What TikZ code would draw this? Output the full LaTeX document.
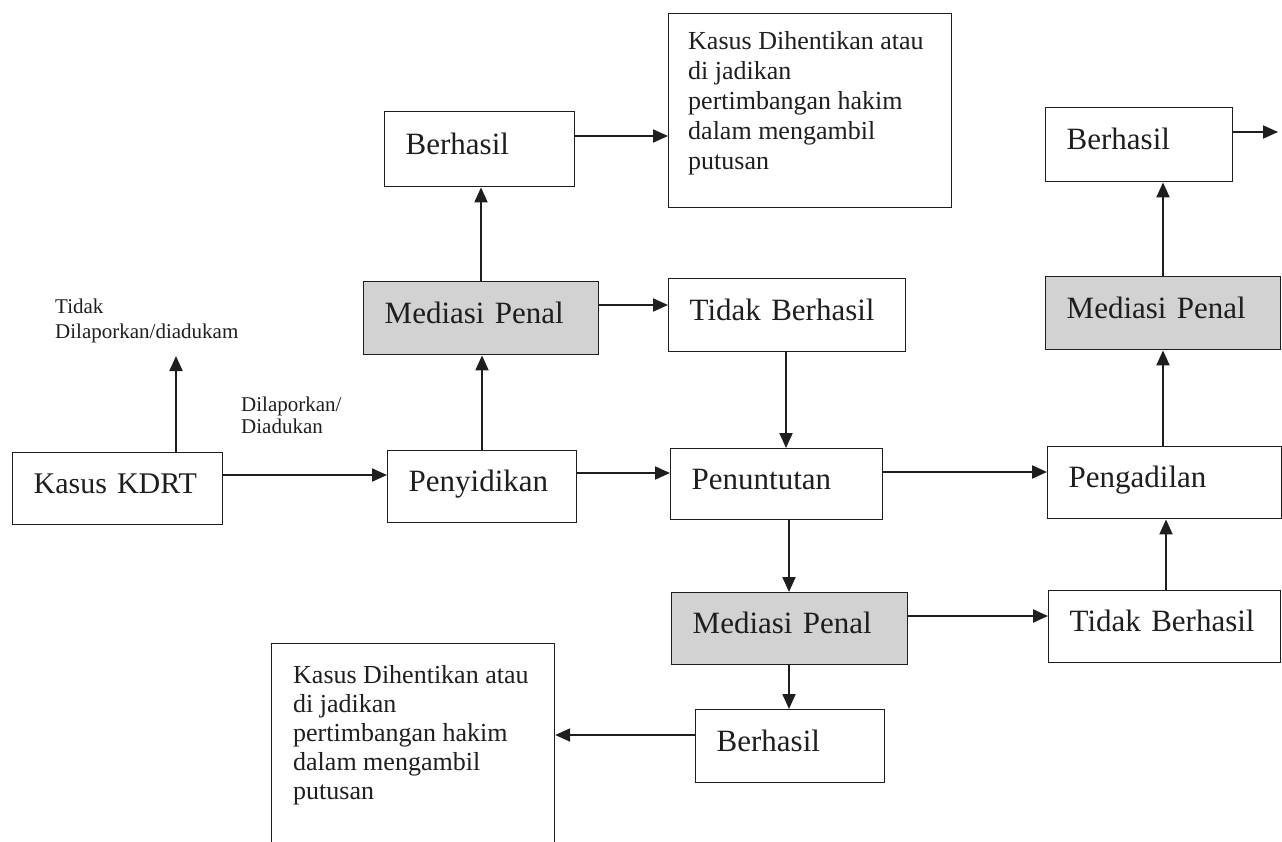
\documentclass[tikz,border=0pt]{standalone}
\usepackage{fontspec}
\setmainfont{Liberation Serif}
\usetikzlibrary{arrows.meta,calc}
\definecolor{ink}{HTML}{1E1E1E}
\definecolor{shade}{HTML}{D2D2D2}
\begin{document}
\begin{tikzpicture}[x=1pt,y=-1pt,
  box/.style={draw=ink, line width=1.4pt, inner xsep=21pt, inner ysep=0pt, anchor=north west, align=left,
    font=\fontsize{31}{36}\selectfont, text=ink, text height=18pt, text depth=8pt},
  gbox/.style={box, fill=shade},
  bigbox/.style={draw=ink, line width=1.2pt, anchor=north west, inner sep=0pt},
  para/.style={anchor=north west, align=left, inner sep=0pt, font=\fontsize{26}{30}\selectfont, text=ink},
  parab/.style={para, font=\fontsize{26}{29}\selectfont},
  smalla/.style={anchor=north west, align=left, inner sep=0pt, font=\fontsize{21}{25}\selectfont, text=ink},
  smallb/.style={smalla, font=\fontsize{21}{22}\selectfont},
  conn/.style={draw=ink, line width=2pt, -{Triangle[length=15pt,width=13pt]}}
]
\useasboundingbox (0,0) rectangle (1282,841);
\clip (0,0) rectangle (1282,841);

% boxes
\node[box, text width=168pt, minimum height=72pt, font=\fontsize{30}{36}\selectfont] (kdrt) at (12,452) {Kasus~KDRT};
\node[box, text width=147pt, minimum height=72pt] (peny) at (387,450) {Penyidikan};
\node[gbox, text width=193pt, minimum height=73pt] (medA) at (363,281) {Mediasi~Penal};
\node[box, text width=148pt, minimum height=75pt] (berA) at (384,111) {Berhasil};
\node[bigbox, minimum width=283pt, minimum height=194pt] (kasA) at (668,13) {};
\node[para] (kasAt) at (688,31) {Kasus Dihentikan atau\\di jadikan\\pertimbangan hakim\\dalam mengambil\\putusan};
\node[box, text width=195pt, minimum height=73pt] (tdkA) at (668,278) {Tidak~Berhasil};
\node[box, text width=170pt, minimum height=71pt] (pent) at (670,448) {Penuntutan};
\node[box, text width=192pt, minimum height=72pt] (peng) at (1047,446) {Pengadilan};
\node[gbox, text width=193pt, minimum height=73pt] (medB) at (1045,276) {Mediasi~Penal};
\node[box, text width=145pt, minimum height=74pt] (berB) at (1045,107) {Berhasil};
\node[gbox, text width=194pt, minimum height=72pt] (medC) at (671,592) {Mediasi~Penal};
\node[box, text width=190pt, minimum height=72pt] (tdkC) at (1048,590) {Tidak~Berhasil};
\node[box, text width=147pt, minimum height=73pt] (berC) at (695,709) {Berhasil};
\node[bigbox, minimum width=283pt, minimum height=217pt] (kasC) at (271,643) {};
\node[parab] (kasCt) at (293,665) {Kasus Dihentikan atau\\di jadikan\\pertimbangan hakim\\dalam mengambil\\putusan};

% labels
\node[smalla] (lblT) at (55,299) {Tidak\\Dilaporkan/diadukam};
\node[smallb] (lblD) at (241,397) {Dilaporkan/\\Diadukan};

% free ends
\coordinate (tdk) at (176,356);
\coordinate (out) at (1278,132);

% connectors
\draw[conn] (kdrt.north -| tdk) -- (tdk);
\draw[conn] (kdrt.east |- 0,475) -- (peny.west |- 0,475);
\draw[conn] (peny.north -| 482,0) -- (medA.south -| 482,0);
\draw[conn] (medA.north -| 481,0) -- (berA.south -| 481,0);
\draw[conn] (berA.east |- 0,136) -- (kasA.west |- 0,136);
\draw[conn] (medA.east |- 0,305) -- (tdkA.west |- 0,305);
\draw[conn] (tdkA.south -| 786,0) -- (pent.north -| 786,0);
\draw[conn] (peny.east |- 0,473) -- (pent.west |- 0,473);
\draw[conn] (pent.east |- 0,472) -- (peng.west |- 0,472);
\draw[conn] (pent.south -| 789,0) -- (medC.north -| 789,0);
\draw[conn] (medC.south -| 789,0) -- (berC.north -| 789,0);
\draw[conn] (berC.west |- 0,735) -- (kasC.east |- 0,735);
\draw[conn] (medC.east |- 0,616) -- (tdkC.west |- 0,616);
\draw[conn] (tdkC.north -| 1166,0) -- (peng.south -| 1166,0);
\draw[conn] (peng.north -| 1163,0) -- (medB.south -| 1163,0);
\draw[conn] (medB.north -| 1163,0) -- (berB.south -| 1163,0);
\draw[conn] (berB.east |- out) -- (out);
\end{tikzpicture}
\end{document}
